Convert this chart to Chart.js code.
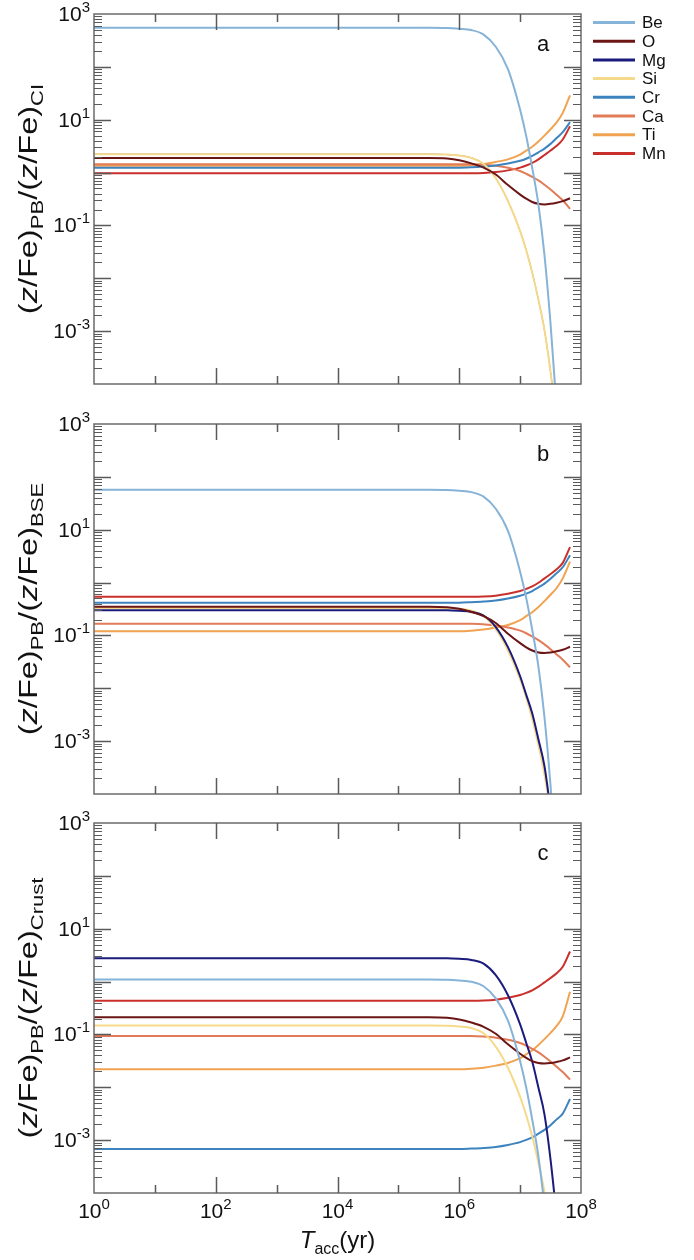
<!DOCTYPE html>
<html>
<head>
<meta charset="utf-8">
<script src="https://cdn.jsdelivr.net/npm/chart.js@4.4.1/dist/chart.umd.min.js"></script>
<style>
  body { margin: 0; background: #fff; width: 694px; height: 1260px; position: relative; overflow: hidden; }
  canvas { position: absolute; left: 0; }
</style>
</head>
<body>
<canvas id="chartCI" width="694" height="410" style="top:0"></canvas>
<canvas id="chartBSE" width="694" height="400" style="top:400px"></canvas>
<canvas id="chartCrust" width="694" height="460" style="top:800px"></canvas>
<script>
// Elements and their line colours (legend order)
const elements = ['Be', 'O', 'Mg', 'Si', 'Cr', 'Ca', 'Ti', 'Mn'];
const colors = ['#86b3d8', '#6b1515', '#1b1b7e', '#f6da8c', '#3d84bf', '#e27c58', '#f0a350', '#c9302b'];

// Accretion time (yr), shared x values
const tacc = [1, 10, 100, 1e3, 1e4, 1e5, 3.16e5, 6.31e5, 1e6, 1.58e6, 2.51e6, 3.98e6, 6.31e6, 1e7, 1.26e7, 1.58e7, 2e7, 2.51e7, 3.16e7, 3.98e7, 5.01e7, 6.6e7];

// Tick label exponents
const yLabelExps = ['3', '1', '-1', '-3'];
const xLabelExps = ['0', '2', '4', '6', '8'];

// Panel a: normalised to CI
const beCI = [550, 550, 550, 550, 550, 550, 550, 544, 525, 496, 408, 240, 91, 15.5, 4.9, 1.23, 0.246, 0.0276, 1.38e-3, 3.5e-5, 5.5e-7, 1.7e-9];
const oCI = [1.88, 1.88, 1.88, 1.88, 1.88, 1.88, 1.88, 1.84, 1.71, 1.49, 1.24, 0.92, 0.58, 0.383, 0.32, 0.278, 0.256, 0.25, 0.256, 0.269, 0.288, 0.327];
const mgCI = [2.22, 2.22, 2.22, 2.22, 2.22, 2.22, 2.22, 2.19, 2.1, 1.9, 1.45, 0.78, 0.29, 0.078, 0.034, 0.0128, 3.9e-3, 1.05e-3, 1.7e-4, 2e-5, 1.8e-6, 6e-8];
const siCI = [2.22, 2.22, 2.22, 2.22, 2.22, 2.22, 2.22, 2.19, 2.1, 1.9, 1.45, 0.78, 0.29, 0.078, 0.034, 0.0128, 3.9e-3, 1.05e-3, 1.7e-4, 2e-5, 1.8e-6, 6e-8];
const crCI = [1.24, 1.24, 1.24, 1.24, 1.24, 1.24, 1.24, 1.24, 1.24, 1.26, 1.30, 1.36, 1.48, 1.67, 1.83, 2.06, 2.42, 2.84, 3.49, 4.5, 5.8, 9.0];
const caCI = [1.44, 1.44, 1.44, 1.44, 1.44, 1.44, 1.44, 1.44, 1.44, 1.44, 1.41, 1.34, 1.23, 1.07, 0.95, 0.83, 0.71, 0.59, 0.48, 0.38, 0.30, 0.205];
const tiCI = [1.35, 1.35, 1.35, 1.35, 1.35, 1.35, 1.35, 1.35, 1.35, 1.38, 1.45, 1.59, 1.78, 2.19, 2.6, 3.09, 3.89, 5.0, 6.6, 8.9, 13.5, 29];
const mnCI = [0.97, 0.97, 0.97, 0.97, 0.97, 0.97, 0.97, 0.97, 0.97, 0.97, 0.98, 1.02, 1.10, 1.24, 1.36, 1.52, 1.78, 2.15, 2.61, 3.21, 4.23, 7.5];

// Panel b: normalised to BSE
const beBSE = [57, 57, 57, 57, 57, 57, 57, 56.4, 54.4, 51.4, 42.2, 24.9, 9.5, 1.61, 0.508, 0.128, 0.0255, 2.86e-3, 1.43e-4, 3.6e-6, 5.7e-8, 1.8e-10];
const oBSE = [0.35, 0.35, 0.35, 0.35, 0.35, 0.35, 0.35, 0.342, 0.319, 0.278, 0.231, 0.172, 0.108, 0.0714, 0.0595, 0.0518, 0.0476, 0.0466, 0.0476, 0.05, 0.0536, 0.061];
const mgBSE = [0.30, 0.30, 0.30, 0.30, 0.30, 0.30, 0.30, 0.30, 0.293, 0.28, 0.238, 0.144, 0.06, 0.0169, 7.5e-3, 3.36e-3, 1.07e-3, 3.36e-4, 4.7e-5, 3.8e-6, 2.4e-7, 4.8e-9];
const siBSE = [0.33, 0.33, 0.33, 0.33, 0.33, 0.33, 0.33, 0.326, 0.315, 0.294, 0.234, 0.131, 0.052, 0.0148, 6.6e-3, 2.62e-3, 8.3e-4, 2.34e-4, 4.2e-5, 5.2e-6, 5.2e-7, 2.1e-8];
const crBSE = [0.417, 0.417, 0.417, 0.417, 0.417, 0.417, 0.417, 0.417, 0.417, 0.425, 0.437, 0.457, 0.498, 0.563, 0.617, 0.692, 0.813, 0.955, 1.18, 1.51, 1.95, 3.3];
const caBSE = [0.166, 0.166, 0.166, 0.166, 0.166, 0.166, 0.166, 0.166, 0.166, 0.166, 0.162, 0.155, 0.141, 0.123, 0.11, 0.0955, 0.0813, 0.0676, 0.055, 0.0437, 0.0347, 0.025];
const tiBSE = [0.12, 0.12, 0.12, 0.12, 0.12, 0.12, 0.12, 0.12, 0.12, 0.123, 0.129, 0.141, 0.158, 0.195, 0.231, 0.275, 0.346, 0.446, 0.588, 0.79, 1.2, 2.5];
const mnBSE = [0.54, 0.54, 0.54, 0.54, 0.54, 0.54, 0.54, 0.54, 0.54, 0.54, 0.545, 0.565, 0.613, 0.691, 0.758, 0.846, 0.992, 1.2, 1.45, 1.79, 2.36, 4.7];

// Panel c: normalised to crust
const beCrust = [1.10, 1.10, 1.10, 1.10, 1.10, 1.10, 1.10, 1.087, 1.05, 0.992, 0.815, 0.481, 0.183, 0.031, 9.8e-3, 2.46e-3, 4.9e-4, 5.5e-5, 2.76e-6, 6.9e-8, 1.1e-9, 3.5e-12];
const oCrust = [0.211, 0.211, 0.211, 0.211, 0.211, 0.211, 0.211, 0.206, 0.192, 0.168, 0.139, 0.103, 0.065, 0.043, 0.0359, 0.0312, 0.0287, 0.0281, 0.0287, 0.0302, 0.0323, 0.0367];
const mgCrust = [2.75, 2.75, 2.75, 2.75, 2.75, 2.75, 2.75, 2.75, 2.69, 2.57, 2.18, 1.32, 0.55, 0.155, 0.069, 0.0308, 9.8e-3, 3.08e-3, 4.3e-4, 3.5e-5, 2.2e-6, 4.4e-8];
const siCrust = [0.148, 0.148, 0.148, 0.148, 0.148, 0.148, 0.148, 0.146, 0.141, 0.132, 0.105, 0.0589, 0.0234, 6.6e-3, 2.96e-3, 1.18e-3, 3.7e-4, 1.05e-4, 1.86e-5, 2.3e-6, 2.3e-7, 9.3e-9];
const crCrust = [6.8e-4, 6.8e-4, 6.8e-4, 6.8e-4, 6.8e-4, 6.8e-4, 6.8e-4, 6.8e-4, 6.8e-4, 6.93e-4, 7.12e-4, 7.45e-4, 8.12e-4, 9.17e-4, 1.01e-3, 1.13e-3, 1.33e-3, 1.56e-3, 1.92e-3, 2.47e-3, 3.18e-3, 6.0e-3];
const caCrust = [0.093, 0.093, 0.093, 0.093, 0.093, 0.093, 0.093, 0.093, 0.093, 0.093, 0.0909, 0.0868, 0.0791, 0.0689, 0.0615, 0.0535, 0.0456, 0.0379, 0.0308, 0.0245, 0.0194, 0.014];
const tiCrust = [0.0219, 0.0219, 0.0219, 0.0219, 0.0219, 0.0219, 0.0219, 0.0219, 0.0219, 0.0224, 0.0235, 0.0257, 0.0289, 0.0355, 0.0422, 0.0502, 0.0632, 0.0814, 0.107, 0.145, 0.219, 0.64];
const mnCrust = [0.435, 0.435, 0.435, 0.435, 0.435, 0.435, 0.435, 0.435, 0.435, 0.435, 0.439, 0.455, 0.494, 0.556, 0.61, 0.682, 0.8, 0.965, 1.17, 1.44, 1.9, 3.7];

const FONT = '"Liberation Sans", Arial, sans-serif';
const TEXT = '#111';

// draws "10" with a raised exponent; y is the baseline
function drawPower(ctx, exp, x, y, align) {
  ctx.font = '21px ' + FONT;
  const bw = ctx.measureText('10').width;
  ctx.font = '15px ' + FONT;
  const ew = ctx.measureText(exp).width;
  const left = align === 'right' ? x - bw - ew : x - (bw + ew) / 2;
  ctx.textAlign = 'left';
  ctx.textBaseline = 'alphabetic';
  ctx.font = '21px ' + FONT;
  ctx.fillText('10', left, y);
  ctx.font = '15px ' + FONT;
  ctx.fillText(exp, left + bw, y - 9);
}

// draws a list of text runs [text, font, yOffset] starting at x
function drawRuns(ctx, runs, x, y) {
  ctx.textAlign = 'left';
  ctx.textBaseline = 'alphabetic';
  for (const [t, f, dy] of runs) {
    ctx.font = f;
    ctx.fillText(t, x, y + dy);
    x += ctx.measureText(t).width;
  }
}
function runsWidth(ctx, runs) {
  let w = 0;
  for (const [t, f] of runs) { ctx.font = f; w += ctx.measureText(t).width; }
  return w;
}

// frame, inward ticks, labels, titles and legend
const axisFrame = {
  id: 'axisFrame',
  afterDatasetsDraw(chart, args, opts) {
    const { ctx, chartArea: a, scales: { x, y } } = chart;
    ctx.save();
    ctx.strokeStyle = '#6b6b6b';
    ctx.lineWidth = 1.5;
    ctx.strokeRect(a.left, a.top, a.right - a.left, a.bottom - a.top);

    // y ticks on both sides
    ctx.strokeStyle = '#5a5a5a';
    for (let e = -4; e < 3; e++) {
      for (let m = 1; m <= 9; m++) {
        if (e === -4 && m === 1) continue;
        const py = Math.round(y.getPixelForValue(m * Math.pow(10, e))) + 0.5;
        const len = m === 1 ? 17 : 8;
        ctx.lineWidth = m === 1 ? 1.5 : 1.2;
        ctx.beginPath();
        ctx.moveTo(a.left, py); ctx.lineTo(a.left + len, py);
        ctx.moveTo(a.right, py); ctx.lineTo(a.right - len, py);
        ctx.stroke();
      }
    }
    // x ticks top and bottom
    ctx.lineWidth = 1.5;
    for (let e = 1; e < 8; e++) {
      const px = Math.round(x.getPixelForValue(Math.pow(10, e))) + 0.5;
      const len = e % 2 === 0 ? 16 : 8;
      ctx.beginPath();
      ctx.moveTo(px, a.bottom); ctx.lineTo(px, a.bottom - len);
      ctx.moveTo(px, a.top); ctx.lineTo(px, a.top + len);
      ctx.stroke();
    }

    ctx.fillStyle = TEXT;
    // y tick labels
    yLabelExps.forEach(exp => {
      const py = y.getPixelForValue(Math.pow(10, Number(exp)));
      drawPower(ctx, exp, a.left - 4, py + 7, 'right');
    });
    // x tick labels (bottom panel only)
    if (opts.xLabels) {
      xLabelExps.forEach(exp => {
        const px = x.getPixelForValue(Math.pow(10, Number(exp)));
        drawPower(ctx, exp, px, a.bottom + 25, 'center');
      });
      const runs = [['T', 'italic 24px ' + FONT, 0], ['acc', '16px ' + FONT, 6], ['(yr)', '24px ' + FONT, 0]];
      const w = runsWidth(ctx, runs);
      drawRuns(ctx, runs, (a.left + a.right) / 2 - w / 2, a.bottom + 55);
    }

    // y axis title, rotated
    const big = '25px ' + FONT, it = 'italic 25px ' + FONT, sub = '17px ' + FONT;
    const runs = [['(', big, 0], ['z', it, 0], ['/Fe)', big, 0], ['PB', sub, 6],
                  ['/(', big, 0], ['z', it, 0], ['/Fe)', big, 0], [opts.norm, sub, 6]];
    const stretch = 1.3;
    const w = runsWidth(ctx, runs) * stretch;
    ctx.save();
    ctx.translate(37, (a.top + a.bottom) / 2);
    ctx.rotate(-Math.PI / 2);
    ctx.scale(stretch, 1);
    drawRuns(ctx, runs, -w / 2 / stretch, 0);
    ctx.restore();

    // panel letter
    ctx.font = '22px ' + FONT;
    ctx.textAlign = 'center';
    ctx.textBaseline = 'middle';
    ctx.fillText(opts.letter, 543, a.top + 31);

    // legend (top panel only)
    if (opts.legend) {
      elements.forEach((name, k) => {
        const ly = 22.5 + 18.7 * k;
        ctx.strokeStyle = colors[k];
        ctx.lineWidth = 3;
        ctx.beginPath();
        ctx.moveTo(593, ly); ctx.lineTo(635, ly);
        ctx.stroke();
        ctx.fillStyle = TEXT;
        ctx.font = '17px ' + FONT;
        ctx.textAlign = 'left';
        ctx.textBaseline = 'middle';
        ctx.fillText(name, 642, ly + 1);
      });
    }
    ctx.restore();
  }
};

function makeChart(id, series, padding, opts) {
  const datasets = elements.map((name, k) => {
    const under = opts.mgUnder && name === 'Mg';
    return {
      label: name,
      data: tacc.map((t, i) => ({ x: t, y: series[k][i] })),
      borderColor: colors[k],
      borderWidth: under ? 1 : 2,
      pointRadius: 0,
      fill: false,
      cubicInterpolationMode: 'monotone',
      // in panel a the Mg curve lies under Si
      order: under ? 1 : 0
    };
  });
  return new Chart(document.getElementById(id), {
    type: 'line',
    data: { datasets },
    options: {
      responsive: false,
      animation: false,
      layout: { padding },
      plugins: { legend: { display: false }, tooltip: { enabled: false }, axisFrame: opts },
      scales: {
        x: { type: 'logarithmic', min: 1, max: 1e8, display: false },
        y: { type: 'logarithmic', min: 1e-4, max: 1e3, display: false }
      }
    },
    plugins: [axisFrame]
  });
}

makeChart('chartCI', [beCI, oCI, mgCI, siCI, crCI, caCI, tiCI, mnCI],
  { left: 94, right: 113, top: 14, bottom: 26 }, { norm: 'CI', letter: 'a', legend: true, mgUnder: true });
makeChart('chartBSE', [beBSE, oBSE, mgBSE, siBSE, crBSE, caBSE, tiBSE, mnBSE],
  { left: 94, right: 113, top: 24, bottom: 6 }, { norm: 'BSE', letter: 'b' });
makeChart('chartCrust', [beCrust, oCrust, mgCrust, siCrust, crCrust, caCrust, tiCrust, mnCrust],
  { left: 94, right: 113, top: 23, bottom: 67 }, { norm: 'Crust', letter: 'c', xLabels: true });
</script>
</body>
</html>
